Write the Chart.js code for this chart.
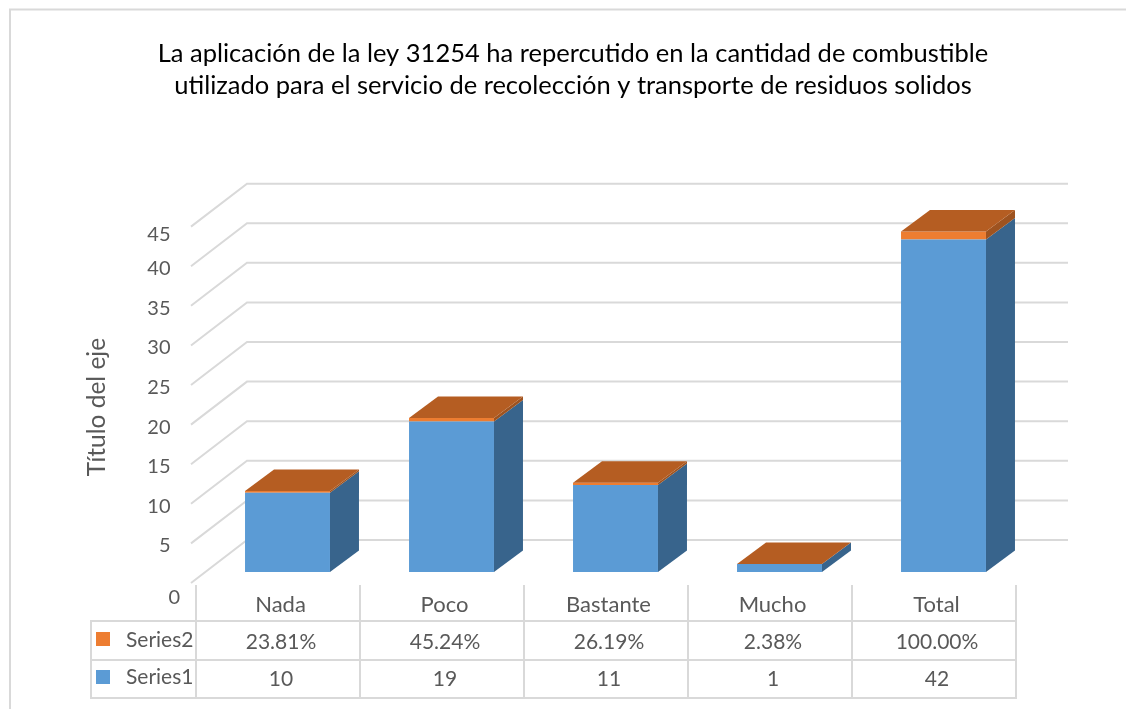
<!DOCTYPE html>
<html>
<head>
<meta charset="utf-8">
<title>Ley 31254</title>
<script src="https://cdn.jsdelivr.net/npm/chart.js"></script>
<style>
  html, body { margin: 0; padding: 0; background: #fff; overflow: hidden; }
  #wrap { width: 1126px; height: 709px; }
</style>
</head>
<body>
<div id="wrap"><canvas id="chart"></canvas></div>
<script>
const titleLines = [
  "La aplicación de la ley 31254 ha repercutido en la cantidad de combustible",
  "utilizado para el servicio de recolección y transporte de residuos solidos"
];
const categories = ["Nada", "Poco", "Bastante", "Mucho", "Total"];
const series1 = [10, 19, 11, 1, 42];
const series2 = [0.2381, 0.4524, 0.2619, 0.0238, 1];
const yTicks = [0, 5, 10, 15, 20, 25, 30, 35, 40, 45];

const FONT = "Lato, Carlito, Calibri, sans-serif";
const TEXT = "#595959";
const LINE = "#d9d9d9";

// fake 3D: how far the bar depth and the wall depth go
const barDepth = { x: 29, y: -21.5 };
const wall = { frontX: 191, backX: 247, endX: 1068, frontDy: 11, backDy: -32 };
const table = { shift: -9.5, left: 91, top: 585, rows: [621, 660, 698] };

// the first and last axis labels sit off their regular spot in the original
function labelSpot(v) {
  if (v === 0) return -1.55;
  if (v === 45) return 44.3;
  return v;
}

function poly(ctx, pts, color) {
  ctx.fillStyle = color;
  ctx.beginPath();
  pts.forEach((p, i) => (i ? ctx.lineTo(p[0], p[1]) : ctx.moveTo(p[0], p[1])));
  ctx.closePath();
  ctx.fill();
}

const chart3d = {
  id: "chart3d",
  beforeDraw(chart) {
    const ctx = chart.ctx;
    ctx.save();
    ctx.strokeStyle = LINE;
    ctx.lineWidth = 2;
    ctx.beginPath();
    ctx.moveTo(10, 709);
    ctx.lineTo(10, 9.5);
    ctx.lineTo(1126, 9.5);
    ctx.stroke();
    ctx.restore();
  },
  beforeDatasetsDraw(chart) {
    // gridlines: slanted on the side wall, flat on the back wall
    const ctx = chart.ctx, y = chart.scales.y;
    ctx.save();
    ctx.strokeStyle = LINE;
    ctx.lineWidth = 2;
    yTicks.forEach(v => {
      const py = y.getPixelForValue(v);
      ctx.beginPath();
      ctx.moveTo(wall.frontX, py + wall.frontDy);
      ctx.lineTo(wall.backX, py + wall.backDy);
      ctx.lineTo(wall.endX, py + wall.backDy);
      ctx.stroke();
    });
    ctx.restore();
  },
  afterDatasetsDraw(chart) {
    const ctx = chart.ctx;
    const sideColors = ["#38648c", "#9e5320"];
    ctx.save();
    chart.data.datasets.forEach((ds, d) => {
      chart.getDatasetMeta(d).data.forEach(bar => {
        const r = bar.x + bar.width / 2, l = bar.x - bar.width / 2;
        const dx = barDepth.x, dy = barDepth.y;
        poly(ctx, [[r, bar.y], [r + dx, bar.y + dy], [r + dx, bar.base + dy], [r, bar.base]], sideColors[d]);
        if (d === 1) {
          poly(ctx, [[l, bar.y], [l + dx, bar.y + dy], [r + dx, bar.y + dy], [r, bar.y]], "#b55d22");
        }
      });
    });
    ctx.restore();
  },
  afterDraw(chart) {
    // data table under the x axis
    const ctx = chart.ctx, x = chart.scales.x;
    const colW = x.width / categories.length;
    const colX = i => x.left + table.shift + i * colW;
    const rows = table.rows;
    ctx.save();
    ctx.strokeStyle = LINE;
    ctx.lineWidth = 2;
    ctx.beginPath();
    categories.concat("").forEach((c, i) => {
      ctx.moveTo(colX(i), table.top);
      ctx.lineTo(colX(i), rows[2] + 1);
    });
    ctx.moveTo(table.left, rows[0]);
    ctx.lineTo(table.left, rows[2] + 1);
    rows.forEach(ry => {
      ctx.moveTo(table.left - 1, ry);
      ctx.lineTo(colX(categories.length) + 1, ry);
    });
    ctx.stroke();

    ctx.fillStyle = TEXT;
    ctx.font = "21px " + FONT;
    ctx.textBaseline = "middle";
    ctx.textAlign = "center";
    categories.forEach((c, i) => {
      const cx = colX(i) + colW / 2 + 3;
      ctx.fillText((series2[i] * 100).toFixed(2) + "%", cx, 642);
      ctx.fillText(String(series1[i]), cx, 679);
    });
    ctx.textAlign = "left";
    ctx.fillText("Series2", 126, 640);
    ctx.fillText("Series1", 126, 677);
    ctx.fillStyle = "#ed7d31";
    ctx.fillRect(96, 632, 14, 14);
    ctx.fillStyle = "#5b9bd5";
    ctx.fillRect(96, 670, 14, 14);

    // the 0 label stands further right than the rest of the axis
    const lab = chart.scales.yLabels;
    ctx.fillStyle = TEXT;
    ctx.font = "20px " + FONT;
    ctx.textAlign = "right";
    ctx.fillText("0", 180, lab.getPixelForValue(labelSpot(0)));
    ctx.restore();
  }
};

new Chart(document.getElementById("chart"), {
  type: "bar",
  data: {
    labels: categories,
    datasets: [
      { label: "Series1", data: series1, backgroundColor: "#5b9bd5", clip: false, barPercentage: 0.518, categoryPercentage: 1 },
      { label: "Series2", data: series2, backgroundColor: "#ed7d31", clip: false, barPercentage: 0.518, categoryPercentage: 1 }
    ]
  },
  plugins: [chart3d],
  options: {
    responsive: true,
    maintainAspectRatio: false,
    animation: false,
    layout: { padding: { left: 120.5, right: 100.5, top: 0, bottom: 0 } },
    plugins: {
      legend: { display: false },
      tooltip: { enabled: false },
      title: {
        display: true,
        text: titleLines,
        color: "#000",
        font: { family: FONT, size: 25.5, weight: "normal", lineHeight: 1.255 },
        padding: { top: 38, bottom: 116 }
      }
    },
    scales: {
      x: {
        stacked: true,
        grid: { display: false, drawTicks: false },
        border: { display: false },
        ticks: { color: TEXT, font: { family: FONT, size: 22 }, labelOffset: -7, padding: -4, maxRotation: 0 },
        afterFit(scale) { scale.height = 113; }
      },
      y: {
        stacked: true,
        display: false,
        min: -3.03,
        max: 44.7
      },
      yLabels: {
        axis: "y",
        position: "left",
        min: -1.33,
        max: 46.4,
        grid: { display: false, drawTicks: false },
        border: { display: false },
        ticks: {
          color: TEXT,
          font: { family: FONT, size: 20 },
          padding: 35,
          autoSkip: false,
          callback(value) {
            const v = Math.round(value / 5) * 5;
            return v === 0 ? "" : String(v);
          }
        },
        afterBuildTicks(scale) { scale.ticks = yTicks.map(v => ({ value: labelSpot(v) })); },
        afterFit(scale) { scale.width = 85; },
        title: {
          display: true,
          text: "Título del eje",
          color: TEXT,
          font: { family: FONT, size: 24.5 },
          padding: { top: -38, bottom: 0 }
        }
      }
    }
  }
});
</script>
</body>
</html>
